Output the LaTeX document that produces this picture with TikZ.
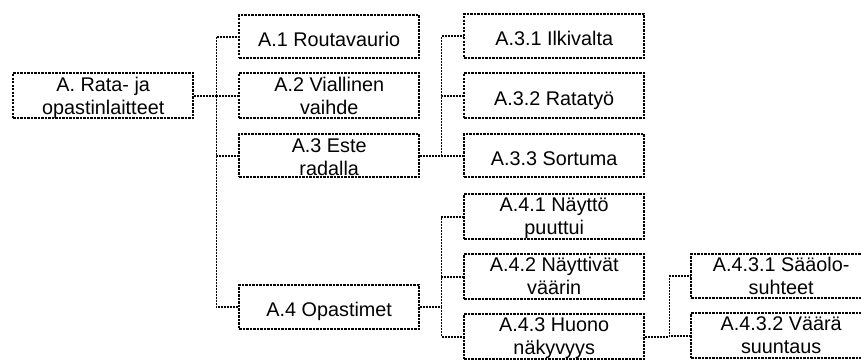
\documentclass[tikz,border=0pt]{standalone}
\usepackage{fontspec}
\setmainfont{Liberation Sans}
\begin{document}
\begin{tikzpicture}[x=1pt,y=-1pt,
  box/.style={draw=black, line width=2.4pt, dash pattern=on 2.3pt off 1.2pt,
    minimum width=180pt, inner sep=0pt, anchor=north west},
  txt/.style={font=\fontsize{19.8}{23}\selectfont, align=center, anchor=base, inner sep=0pt},
  link/.style={draw=black, line width=1.8pt, dash pattern=on 1.9pt off 1.1pt}]
\useasboundingbox (0,0) rectangle (861,361);
% boxes
\node[box, minimum height=45pt] (r) at (12,72) {};
\node[box, minimum height=43pt] (a1) at (238,14) {};
\node[box, minimum height=45pt] (a2) at (238,72) {};
\node[box, minimum height=43pt] (a3) at (238,133) {};
\node[box, minimum height=44pt] (a4) at (238,284) {};
\node[box, minimum height=44pt] (a31) at (463,13) {};
\node[box, minimum height=45pt] (a32) at (463,72) {};
\node[box, minimum height=43pt] (a33) at (463,133) {};
\node[box, minimum height=45pt] (a41) at (463,193) {};
\node[box, minimum height=45pt] (a42) at (463,253) {};
\node[box, minimum height=45pt] (a43) at (463,313) {};
\node[box, minimum height=44pt] (a431) at (690,253) {};
\node[box, minimum height=45pt] (a432) at (690,312) {};
% texts
\node[txt] (tr) at ([yshift=-18.5pt]r.center) {A. Rata- ja\\opastinlaitteet};
\node[txt] (t1) at ([yshift=-9.5pt]a1.center) {A.1 Routavaurio};
\node[txt] (t2) at ([yshift=-18.5pt]a2.center) {A.2 Viallinen\\vaihde};
\node[txt] (t3) at ([yshift=-19.5pt]a3.center) {A.3 Este\\radalla};
\node[txt] (t4) at ([yshift=-9.5pt]a4.center) {A.4 Opastimet};
\node[txt] (t31) at ([yshift=-9.5pt]a31.center) {A.3.1 Ilkivalta};
\node[txt] (t32) at ([yshift=-9.5pt]a32.center) {A.3.2 Ratatyö};
\node[txt] (t33) at ([yshift=-9.5pt]a33.center) {A.3.3 Sortuma};
\node[txt] (t41) at ([yshift=-18pt]a41.center) {A.4.1 Näyttö\\puuttui};
\node[txt] (t42) at ([yshift=-18pt]a42.center) {A.4.2 Näyttivät\\väärin};
\node[txt] (t43) at ([yshift=-18pt]a43.center) {A.4.3 Huono\\näkyvyys};
\node[txt] (t431) at ([yshift=-18pt]a431.center) {A.4.3.1 Sääolo-\\suhteet};
\node[txt] (t432) at ([yshift=-18pt]a432.center) {A.4.3.2 Väärä\\suuntaus};
% connectors
\coordinate (j0) at ([xshift=22pt]r.east);
\coordinate (j1) at ([xshift=21pt]a3.east);
\coordinate (j2) at ([xshift=21pt]a4.east);
\coordinate (j3) at ([xshift=24pt]a43.east);
\path[link] (r.east) -- (j0);
\path[link] (j0) |- (a1.west);
\path[link] (j0) |- (a2.west);
\path[link] (j0) |- (a3.west);
\path[link] (j0) |- (a4.west);
\path[link] (a3.east) -- (j1);
\path[link] (j1) |- (a31.west);
\path[link] (j1) |- (a32.west);
\path[link] (j1) |- (a33.west);
\path[link] (a4.east) -- (j2);
\path[link] (j2) |- (a41.west);
\path[link] (j2) |- (a42.west);
\path[link] (j2) |- (a43.west);
\path[link] (a43.east) -- (j3);
\path[link] (j3) |- (a431.west);
\path[link] (j3) |- (a432.west);
\end{tikzpicture}
\end{document}
